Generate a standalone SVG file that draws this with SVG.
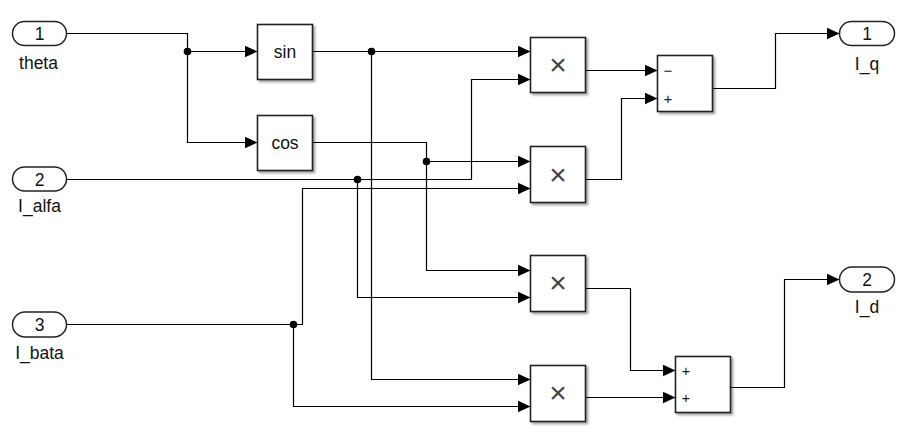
<svg xmlns="http://www.w3.org/2000/svg" width="903" height="438" viewBox="0 0 903 438">
<style>
.blk{fill:#fff;stroke:#222;stroke-width:1.6;filter:url(#sh)}
.port{fill:#fff;stroke:#222;stroke-width:1.5}
.w{fill:none;stroke:#000;stroke-width:1.2}
.wa{fill:none;stroke:#000;stroke-width:1.2;marker-end:url(#ar)}
.t{font-family:"Liberation Sans",Arial,sans-serif;font-size:17.5px;fill:#111;text-anchor:middle}
.x{font-family:"Liberation Sans",Arial,sans-serif;font-size:30px;fill:#444;text-anchor:middle}
.s{font-family:"Liberation Sans",Arial,sans-serif;font-size:15px;fill:#222;text-anchor:middle}
.j{fill:#000}
</style>
<defs>
<filter id="sh" x="-10%" y="-10%" width="130%" height="130%">
<feDropShadow dx="2" dy="2" stdDeviation="1.2" flood-color="#000" flood-opacity="0.35"/>
</filter>
<marker id="ar" markerUnits="userSpaceOnUse" markerWidth="13" markerHeight="12" refX="13" refY="6" orient="auto">
<path d="M0,0 L13,6 L0,12 z" fill="#000"/>
</marker>
</defs>
<g id="connectors">
<path class="w" d="M66.5,33.5 H187.5 V51.5"/>
<path class="wa" d="M187.5,51.5 H257.5"/>
<path class="wa" d="M187.5,51.5 V142.5 H257.5"/>
<path class="wa" d="M312.5,51.5 H530.5"/>
<path class="wa" d="M371.5,51.5 V379.5 H530.5"/>
<path class="w" d="M312.5,142.5 H426.5 V161.5"/>
<path class="wa" d="M426.5,161.5 H530.5"/>
<path class="wa" d="M426.5,161.5 V270.5 H530.5"/>
<path class="wa" d="M66.5,179.5 H471.5 V79.5 H530.5"/>
<path class="wa" d="M357.5,179.5 V297.5 H530.5"/>
<path class="wa" d="M66.5,324.5 H302.5 V188.5 H530.5"/>
<path class="wa" d="M293.5,324.5 V406.5 H530.5"/>
<path class="wa" d="M585.5,70.5 H657.5"/>
<path class="wa" d="M585.5,179.5 H621.5 V98.5 H657.5"/>
<path class="wa" d="M585.5,288.5 H630.5 V370.5 H675.5"/>
<path class="wa" d="M585.5,397.5 H675.5"/>
<path class="wa" d="M712.5,88.5 H775.5 V33.5 H839.5"/>
<path class="wa" d="M730.5,387.5 H784.5 V279.5 H839.5"/>
<circle class="j" cx="187.5" cy="51.5" r="3.8"/>
<circle class="j" cx="371.5" cy="51.5" r="3.8"/>
<circle class="j" cx="426.5" cy="161.5" r="3.8"/>
<circle class="j" cx="357.5" cy="179.5" r="3.8"/>
<circle class="j" cx="293.5" cy="324.5" r="3.8"/>
</g>
<g id="in1"><rect class="port" x="12.5" y="21.5" width="54" height="24" rx="12"/><text class="t" x="39.5" y="40">1</text><text class="t" x="38.5" y="69">theta</text></g>
<g id="in2"><rect class="port" x="12.5" y="167" width="54" height="24" rx="12"/><text class="t" x="39.5" y="185.5">2</text><text class="t" x="39.5" y="212">I_alfa</text></g>
<g id="in3"><rect class="port" x="12.5" y="312" width="54" height="25" rx="12.5"/><text class="t" x="39.5" y="331">3</text><text class="t" x="39.5" y="359">I_bata</text></g>
<g id="sin"><rect class="blk" x="257.5" y="24.5" width="55" height="55"/><text class="t" x="285" y="58">sin</text></g>
<g id="cos"><rect class="blk" x="257.5" y="115.5" width="55" height="55"/><text class="t" x="285" y="149">cos</text></g>
<g id="prod1"><rect class="blk" x="530.5" y="37.5" width="55" height="55"/><text class="x" x="558" y="74.6">×</text></g>
<g id="prod2"><rect class="blk" x="530.5" y="146.5" width="55" height="56"/><text class="x" x="558" y="184.6">×</text></g>
<g id="prod3"><rect class="blk" x="530.5" y="255.5" width="55" height="56"/><text class="x" x="558" y="293">×</text></g>
<g id="prod4"><rect class="blk" x="530.5" y="365.5" width="55" height="56"/><text class="x" x="558" y="402.6">×</text></g>
<g id="sum1"><rect class="blk" x="657.5" y="55.5" width="55" height="56"/><text class="s" x="668" y="75.7">−</text><text class="s" x="668" y="103.5">+</text></g>
<g id="sum2"><rect class="blk" x="675.5" y="356.5" width="55" height="56"/><text class="s" x="686" y="375.5">+</text><text class="s" x="686" y="402.5">+</text></g>
<g id="out1"><rect class="port" x="839.5" y="21.5" width="55" height="24" rx="12"/><text class="t" x="867" y="40">1</text><text class="t" x="867" y="70">I_q</text></g>
<g id="out2"><rect class="port" x="839.5" y="267" width="55" height="25" rx="12.5"/><text class="t" x="867" y="286">2</text><text class="t" x="867" y="313">I_d</text></g>
</svg>
